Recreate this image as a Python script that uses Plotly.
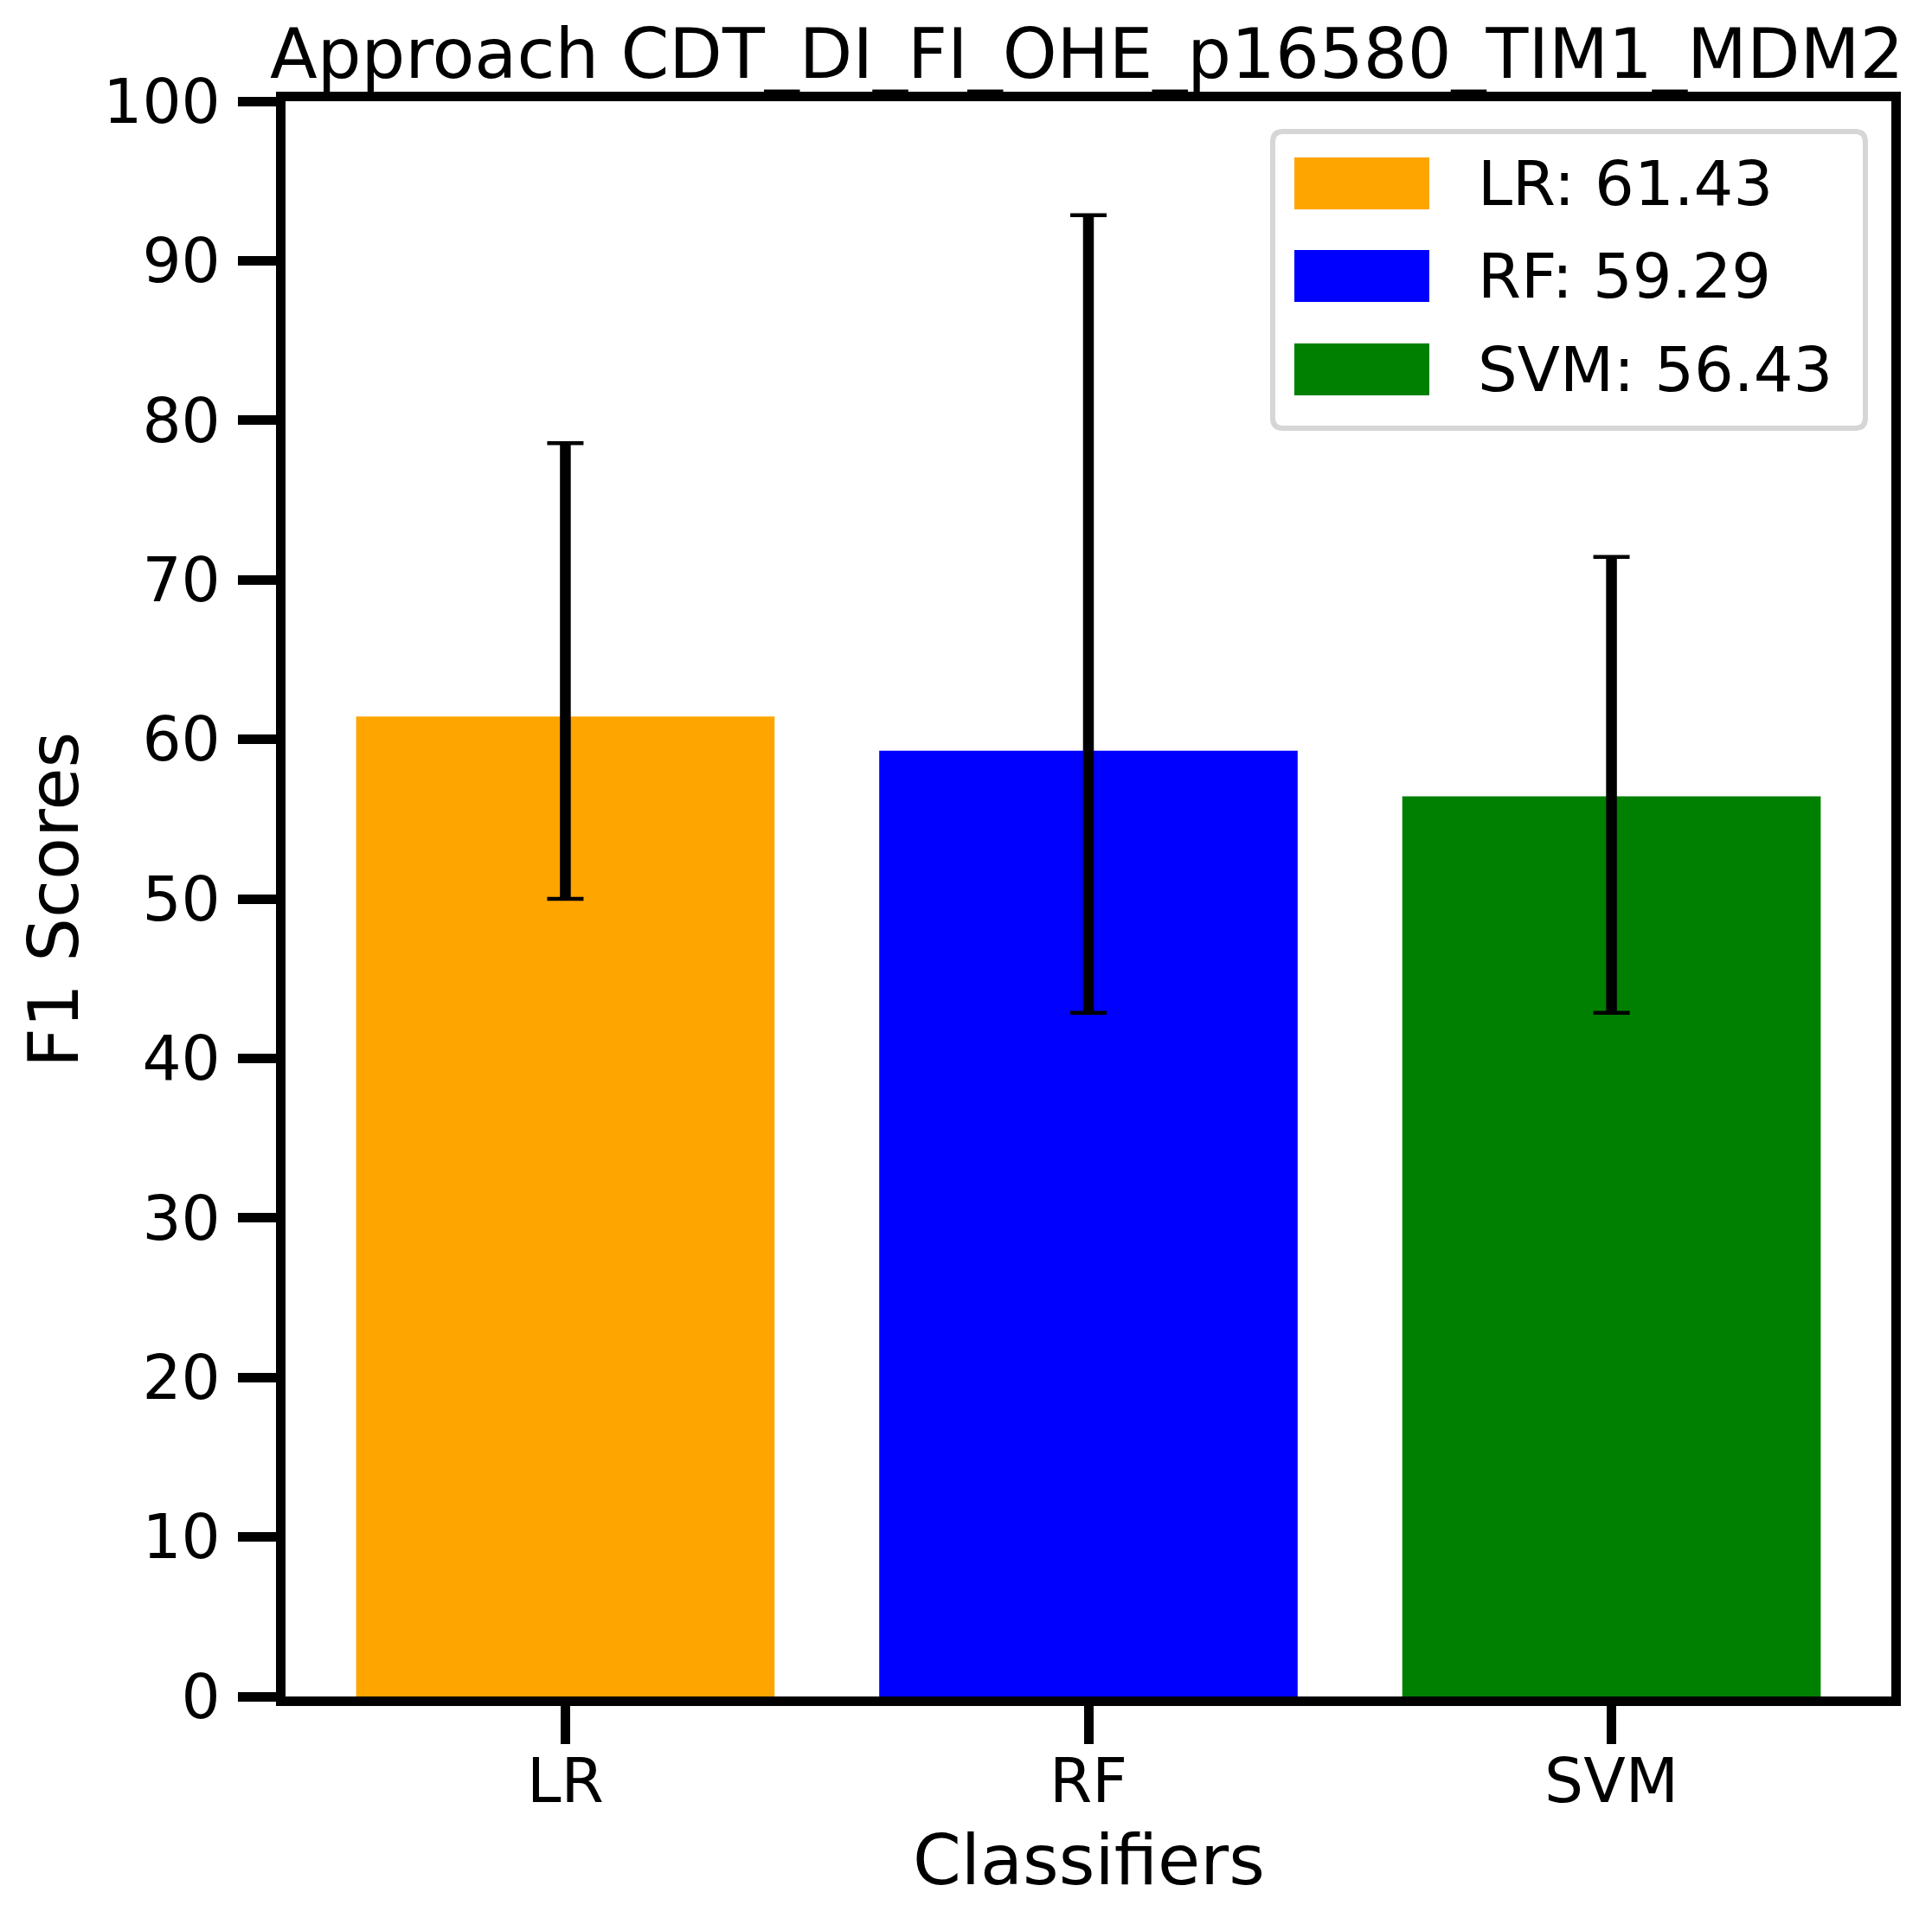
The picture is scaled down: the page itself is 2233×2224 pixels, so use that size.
import plotly.graph_objects as go

# ---- data ----
classifiers = ["LR", "RF", "SVM"]
f1_means = [61.43, 59.29, 56.43]
err_plus = [17.14, 33.57, 15.00]
err_minus = [11.43, 16.43, 13.57]
bar_colors = ["#FFA500", "#0000FF", "#008000"]
y_ticks = [0, 10, 20, 30, 40, 50, 60, 70, 80, 90, 100]
title_text = "Approach CDT_DI_FI_OHE_p16580_TIM1_MDM2"
x_title = "Classifiers"
y_title = "F1 Scores"

W, H = 2233, 2224
L, R, T, B = 330, 2186, 117, 1961  # plot area in px
FONT = "DejaVu Sans"


def px_x(x):
    return (x - L) / (R - L)


def px_y(y):
    return (B - y) / (B - T)


fig = go.Figure()

fig.add_trace(go.Bar(
    x=classifiers, y=f1_means, width=0.8,
    marker=dict(color=bar_colors, line=dict(width=0)),
    error_y=dict(type="data", symmetric=False, array=err_plus, arrayminus=err_minus,
                 color="black", thickness=12.5, width=0),
    showlegend=False, hoverinfo="skip",
))
# thin caps of the error bars
fig.add_trace(go.Scatter(
    x=classifiers, y=f1_means, mode="markers",
    marker=dict(size=1, opacity=0),
    error_y=dict(type="data", symmetric=False, array=err_plus, arrayminus=err_minus,
                 color="black", thickness=4.5, width=21),
    showlegend=False, hoverinfo="skip",
))

shapes = []
annotations = []

# legend box (rounded)
bx0, bx1, by0, by1, rr = 1471, 2156, 152, 495, 12
X = px_x
Y = px_y
path = (f"M {X(bx0+rr)},{Y(by0)} L {X(bx1-rr)},{Y(by0)} Q {X(bx1)},{Y(by0)} {X(bx1)},{Y(by0+rr)} "
        f"L {X(bx1)},{Y(by1-rr)} Q {X(bx1)},{Y(by1)} {X(bx1-rr)},{Y(by1)} "
        f"L {X(bx0+rr)},{Y(by1)} Q {X(bx0)},{Y(by1)} {X(bx0)},{Y(by1-rr)} "
        f"L {X(bx0)},{Y(by0+rr)} Q {X(bx0)},{Y(by0)} {X(bx0+rr)},{Y(by0)} Z")
shapes.append(dict(type="path", xref="paper", yref="paper", path=path,
                   fillcolor="white", line=dict(color="#d6d6d6", width=6), layer="above"))

row_centers = [212, 319, 427]
for name, val, col, yc in zip(classifiers, f1_means, bar_colors, row_centers):
    shapes.append(dict(type="rect", xref="paper", yref="paper",
                       x0=X(1496), x1=X(1652), y0=Y(yc - 30), y1=Y(yc + 30),
                       fillcolor=col, line=dict(width=0), layer="above"))
    annotations.append(dict(xref="paper", yref="paper", x=X(1706), y=Y(yc),
                            xanchor="left", yanchor="middle", showarrow=False,
                            text=f"{name}: {val:.2f}",
                            font=dict(family=FONT, size=72, color="black")))

# title and axis titles
annotations.append(dict(xref="paper", yref="paper", x=X(1256), y=Y(62),
                        xanchor="center", yanchor="middle", showarrow=False,
                        text=title_text, font=dict(family=FONT, size=80, color="black")))
annotations.append(dict(xref="paper", yref="paper", x=X(1258), y=Y(2150),
                        xanchor="center", yanchor="middle", showarrow=False,
                        text=x_title, font=dict(family=FONT, size=80, color="black")))
annotations.append(dict(xref="paper", yref="paper", x=X(62), y=Y(1040),
                        xanchor="center", yanchor="middle", showarrow=False, textangle=-90,
                        text=y_title, font=dict(family=FONT, size=80, color="black")))

fig.update_layout(
    width=W, height=H,
    margin=dict(l=L, r=W - R, t=T, b=H - B, pad=0),
    paper_bgcolor="white", plot_bgcolor="white",
    shapes=shapes, annotations=annotations,
    showlegend=False,
    font=dict(family=FONT, color="black"),
)
fig.update_xaxes(
    range=[-0.535, 2.535], showline=True, linecolor="black", linewidth=11, mirror=True,
    ticks="outside", ticklen=44, tickwidth=11, tickcolor="black",
    tickfont=dict(family=FONT, size=71, color="black"), showgrid=False, zeroline=False,
    ticklabelstandoff=-18,
)
fig.update_yaxes(
    range=[0, 100], tickvals=y_ticks, showline=True, linecolor="black", linewidth=11, mirror=True,
    ticks="outside", ticklen=44, tickwidth=11, tickcolor="black",
    tickfont=dict(family=FONT, size=71, color="black"), showgrid=False, zeroline=False,
    ticklabelstandoff=6,
)

fig.write_html("out.html", config={"displayModeBar": False},
               post_script="document.body.style.margin='0px';document.body.style.padding='0px';")
